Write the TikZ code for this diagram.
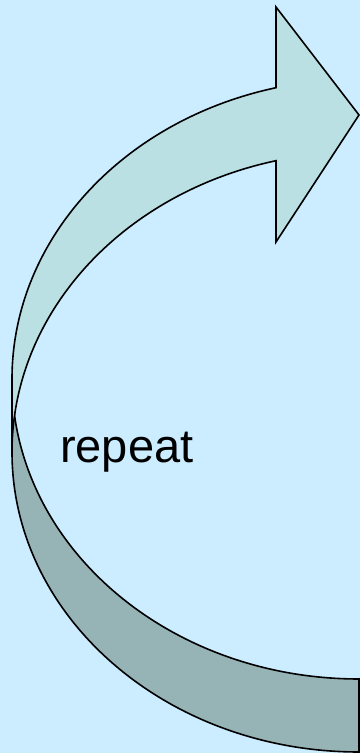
\documentclass[tikz,border=0pt]{standalone}
\usepackage{fontspec}
\setmainfont{Liberation Sans}
\usetikzlibrary{positioning}
\definecolor{slidebg}{HTML}{CCECFF}
\definecolor{bandlight}{HTML}{BBE0E3}
\definecolor{banddark}{HTML}{96B3B6}
\tikzset{
    % Band styles
    band/.style={draw=black, line width=1.6pt, line join=miter},
    back band/.style={band, fill=banddark},
    front band/.style={band, fill=bandlight},
    % Text styles
    label text/.style={font=\fontsize{47}{56}\selectfont, inner sep=0pt},
}

\begin{document}
\begin{tikzpicture}[
    x=1pt, y=1pt,
    ring/.style={x radius=347, y radius=300},
]
    % Background
    \fill[slidebg] (0,0) rectangle (360,753);
    \useasboundingbox (0,0) rectangle (360,753);

    % Tail (back band)
    \draw[back band] (359,1) arc[start angle=270, end angle=180, ring]
        -- (12,374) arc[start angle=180, end angle=270, ring] -- cycle;

    % Head (front band)
    \coordinate (headtop) at (276,746);
    \coordinate (tip) at (359,638);
    \coordinate (headbot) at (276,511);
    \draw[front band] (12,374) arc[start angle=180, end angle=103.84, ring]
        -- (headtop) -- (tip) -- (headbot) -- (276,592.3)
        arc[start angle=103.84, end angle=180, ring] -- cycle;

    % Label
    \node[label text, anchor=base west] (repeat) at (60,290) {repeat};
\end{tikzpicture}
\end{document}
